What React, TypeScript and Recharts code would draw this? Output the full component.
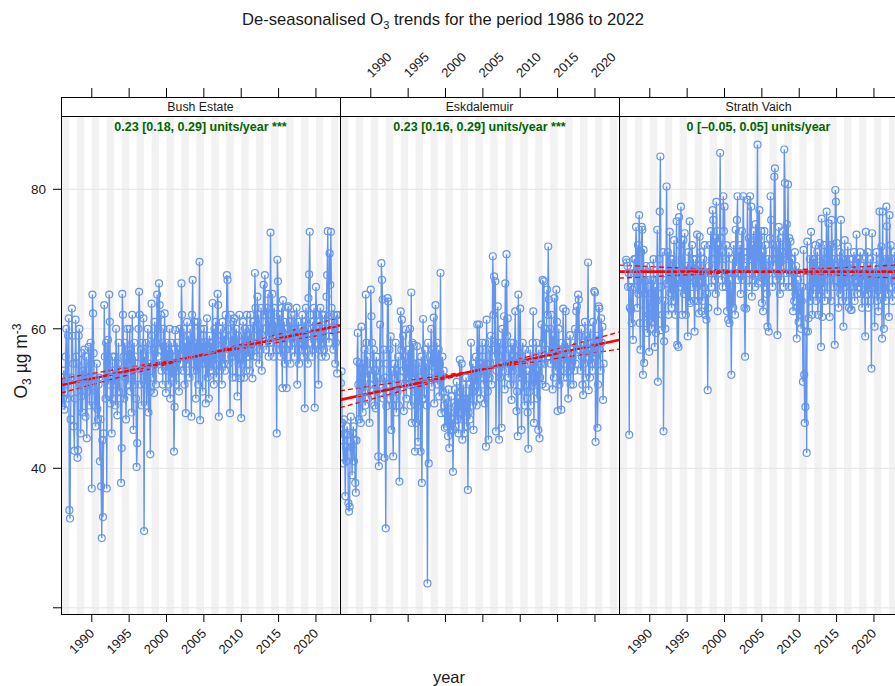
import { ComposedChart, Line, XAxis, YAxis, ReferenceArea, ReferenceLine } from 'recharts';

const FONT = '"Liberation Sans", Arial, Helvetica, sans-serif';

// axis ranges (decimal years / µg m-3)
const X_MIN = 1985.88;
const X_MAX = 2023.22;
const Y_MIN = 19.11;
const Y_MAX = 93.23;

const YEAR_TICKS = [1990, 1995, 2000, 2005, 2010, 2015, 2020];
const Y_TICKS = [20, 40, 60, 80];
const SHADED_YEARS = [1986, 1988, 1990, 1992, 1994, 1996, 1998, 2000, 2002, 2004, 2006, 2008, 2010, 2012, 2014, 2016, 2018, 2020, 2022];

const SITES = ['Bush Estate', 'Eskdalemuir', 'Strath Vaich'];
const SERIES_START = [1986, 1986, 1986 + 10 / 12];
const SLOPE = [0.23, 0.23, 0];
const SLOPE_LOWER = [0.18, 0.16, -0.05];
const SLOPE_UPPER = [0.29, 0.29, 0.05];
const SIGNIF = ['***', '***', ''];
const TREND_MID_YEAR = 2004.46;
const TREND_MID_VALUE = [56.18, 54.08, 68.2];

// monthly de-seasonalised O3, one row per year
const bushEstate = [
  53, 49, 50, 54, 48.4, 52, 56, 60, 53, 50, 59, 61.5,
  34, 32.8, 47, 53, 62.9, 59, 55, 46, 42.5, 50, 61.3, 56,
  55, 41.5, 42.6, 59, 60, 52, 45, 50.3, 56.5, 48, 54, 52,
  57, 53, 47.4, 56, 44.3, 51, 54, 57.4, 49, 52, 58, 55,
  37.1, 64.9, 62.2, 56.5, 49, 53, 46, 51, 55, 48.5, 47, 52,
  53, 41, 47, 37.4, 30, 44, 33, 45, 63.4, 56, 50, 58,
  37.1, 55, 58.4, 52, 64.9, 61, 49.3, 53, 45, 56, 50, 54,
  52, 56, 49, 60, 53, 47.6, 55, 58, 51, 54, 50, 37.9,
  42.9, 65, 62, 56, 50, 58, 53, 47, 55, 60, 52, 57,
  55, 60, 51, 57, 48, 62, 54, 45.5, 58, 52, 56, 50,
  40.2, 43.6, 55, 60, 65.3, 62, 52, 57, 49, 58, 54, 61.5,
  31, 56, 52, 58, 49, 54, 60, 48, 55, 51, 42, 57,
  63.6, 59, 53, 57, 50.8, 61, 55, 52, 58, 64.9, 56, 60,
  66.5, 63.4, 57, 62, 54, 58, 52, 60, 55, 62.2, 57, 50.8,
  58, 54, 57, 52, 56, 60, 50, 55, 58, 53, 57, 54,
  42.4, 48.8, 59.8, 56, 52, 58, 54, 57, 51, 60, 55, 56,
  66.5, 62, 57, 54, 60, 52, 58, 47.9, 56, 61, 55, 59,
  57, 53, 60, 56, 47.4, 62, 67, 58, 54, 61, 56, 50,
  58, 54, 61, 52, 57, 69.6, 46.9, 60, 55, 58, 51, 59,
  60, 55, 58, 49.3, 56, 61.5, 53, 57, 50, 59, 54, 58,
  57, 54, 63.7, 58, 52, 60, 55, 61, 53, 59, 65, 63.4,
  47.4, 57, 54, 60, 56, 52, 61, 58, 55, 59, 54, 62,
  58, 67.7, 67, 60, 55, 57, 47.9, 62, 56, 59, 53, 61,
  56, 61.5, 58, 53, 60, 57, 50.3, 59, 55, 62, 57, 52.9,
  47.2, 59, 55, 61, 57, 53, 60, 58, 54, 62, 56, 59,
  56, 60, 54, 62, 58, 57, 52.9, 61, 56, 59, 68, 63,
  60, 56, 64.6, 58, 62, 55, 60, 57, 63, 54, 59, 61,
  66.3, 62, 67.7, 60, 57, 63, 59, 65, 56, 61, 58, 73.8,
  62, 58, 65, 60, 56, 63, 59, 61, 57, 45, 69.9, 66.8,
  60, 57, 62, 56, 59, 63, 51.5, 64.1, 58, 61, 55, 60,
  57, 51.5, 60, 63, 63.2, 58, 61, 55, 59, 62, 57, 60,
  58, 62, 56, 60, 59, 63, 52, 57, 61, 55, 60, 58,
  60, 57, 62, 58, 56, 61, 48.6, 59, 63, 57, 60, 55,
  64.4, 67.8, 73.9, 62, 58, 60, 56, 61, 57, 63, 48.7, 59,
  66, 62, 58, 60, 52, 61, 57, 63, 59, 56, 62, 58,
  60, 57, 62, 59, 56, 64.6, 67.7, 74, 61, 58, 70.8, 66.3,
  73.9, 63, 59, 61, 57, 62, 60, 55, 58, 62, 53.6, 62,
];

const eskdalemuir = [
  52.2, 53.9, 46.5, 44, 40.7, 47, 45, 36, 43, 41, 46, 44.8,
  35, 33.8, 34.5, 44, 47.4, 43, 39, 45, 46, 41, 44, 37.9,
  36.5, 44, 55.3, 59.4, 52, 47, 55, 50, 46.5, 60.3, 53, 48,
  55, 51, 57, 49, 64.9, 58, 53, 56, 50, 54, 46.5, 52,
  65.6, 61.8, 58, 55, 52, 57, 49, 54, 48.6, 56, 51, 53,
  41.7, 40.3, 55, 60.6, 52, 69.4, 67, 64.2, 50, 57, 41.5, 53,
  31.4, 48.9, 55, 64.4, 63.9, 52, 57, 50, 58.9, 45.5, 54, 49,
  41.7, 50, 55, 52.9, 58, 48, 54, 51, 56, 49, 38.1, 53,
  62.5, 57, 61.3, 54, 59, 48.2, 56, 52, 59.9, 50, 55, 53,
  57, 52, 55, 60, 49, 65.2, 46.5, 58, 53, 57.7, 51, 42.4,
  55, 46.5, 57.5, 51, 43.8, 55.1, 49, 53, 42.4, 56, 37.9, 50,
  61.4, 54, 50, 57, 52, 55, 49, 23.5, 58, 40.7, 53, 56,
  55, 60, 51.7, 57, 54.6, 61.6, 49.3, 56, 63.4, 53, 58, 52,
  54, 57, 50.3, 55, 68, 47.9, 53, 56, 51, 54, 49, 45.8,
  47.9, 50, 46, 49.3, 44.6, 51.3, 42.9, 48, 46, 50.3, 45.5, 47,
  39.5, 45.5, 48, 51.3, 46, 49, 52.4, 47, 50, 45, 48, 55.6,
  51, 47, 55, 44.1, 49, 52, 45, 50, 48, 53, 46, 50,
  36.9, 48, 52, 47, 50, 58, 53, 49, 55, 45.5, 51, 54,
  52, 56, 49, 60.6, 54, 51, 60.6, 57, 50, 55, 53, 58,
  56, 52, 54, 49.3, 58, 43.1, 61.3, 55, 51, 44.1, 57, 53,
  55, 59, 52, 57, 70.4, 62, 67.5, 56, 66.8, 45.3, 54, 58,
  63.2, 56, 44.1, 58, 53, 55, 45.8, 60, 54, 57, 61.8, 51.3,
  66.5, 55, 70.7, 59, 61.5, 53, 57, 55, 52, 58, 49.8, 56,
  54, 58, 52, 57, 62.5, 55, 48.2, 51, 44.6, 64.9, 56, 53,
  62.9, 56, 45.5, 53, 58, 51, 55, 49, 57, 52, 54, 50,
  48, 42.8, 54, 51, 57, 49, 55, 52, 58, 62.5, 46.5, 53,
  56, 52, 58, 50, 54, 45.5, 57, 44.3, 53, 55, 60.6, 52,
  67, 58, 66.8, 55, 60, 51.7, 57, 65.6, 62, 71.8, 64.2, 56,
  60, 55, 62, 57, 51.3, 59, 53, 64.4, 58, 54, 65.6, 61,
  48.2, 55, 60, 52, 57, 54, 48.4, 58, 56, 62.9, 53, 57,
  55, 62.5, 57, 53, 58, 50, 56, 54, 59.1, 52, 57, 55,
  56, 52, 58, 54, 60, 55, 62.5, 63.2, 57, 64.9, 64.2, 59,
  57, 54, 60, 56, 52, 50.5, 58, 55, 61, 53, 59, 56,
  58, 69.5, 51.2, 57, 53, 60, 55, 58, 54, 61, 56, 65.4,
  65.2, 43.8, 56, 59, 45.8, 52, 63.2, 62.9, 57, 54, 61.5, 58,
  60.3, 49.8, 55,
];

// starts November 1986
const strathVaich = [
  69.9, 69.5,
  69, 66, 68, 44.8, 63, 66, 62.7, 60.8, 65.6, 58.4, 68, 70,
  66, 70, 74.6, 68, 63, 72, 65, 76.3, 60.8, 57, 71, 74.6,
  74.2, 53.4, 71.3, 55.1, 66.8, 65.1, 69, 60.8, 59.4, 67, 62, 56.7,
  63, 69, 65.1, 60, 67, 61, 70, 62, 57.4, 66, 59.4, 64,
  74.2, 52.4, 65, 70, 76.8, 84.7, 66, 59.8, 62, 71, 45.3, 58.2,
  64, 60, 67, 80.4, 66.5, 71, 62, 68, 73.9, 65.1, 70, 63,
  66, 70, 64, 72.7, 68, 62, 69, 75.4, 57.7, 67, 57.4, 76,
  72, 66, 77.5, 70, 62, 68.4, 72.7, 65, 73.7, 67, 62, 69,
  66, 58.9, 71, 64, 75.4, 63.7, 69, 67.5, 72, 66, 70, 64,
  59.6, 67, 70, 66, 73.5, 64, 69, 62.2, 73.2, 67, 71, 62.5,
  68, 64, 70, 66, 72, 62, 68, 61.3, 65, 51.2, 63, 69,
  72, 68, 74, 66, 70, 77, 75.6, 71, 67, 73, 65, 78.2,
  74, 62.5, 72, 68, 70, 85.2, 73, 67, 71, 66, 79, 74,
  77.5, 70, 66, 72, 62.5, 68, 61.3, 71, 60.8, 67, 64, 53.4,
  66, 70, 63, 72, 68, 62, 74.2, 69, 75.6, 79, 67, 71,
  68, 72, 65, 70, 74, 67, 79, 71, 63, 56, 69, 62.9,
  71, 78.5, 68, 73, 66, 79, 70, 77.5, 64.6, 72, 67, 74,
  70, 66, 75, 68, 72, 86.4, 66.5, 73, 77, 66.8, 70, 74,
  63.7, 71, 62.5, 68, 74, 66, 72, 69, 65, 60.3, 70, 59.6,
  68, 73, 79, 75.6, 70, 66, 72, 69, 81.8, 83, 71, 67,
  72, 59.1, 68, 74.6, 70, 65, 73, 67, 71, 69, 74, 66,
  85.7, 80.9, 72, 68, 75, 70, 80.7, 66, 73, 68, 72.5, 70,
  66, 70, 62.5, 68, 64, 71, 65, 69, 58.6, 63, 67, 61,
  65, 62, 68, 60, 64, 66, 52.4, 71.3, 53.4, 46.5, 48.8, 59.6,
  42.2, 72.5, 59.6, 61.5, 66, 70, 64, 73.9, 68, 62, 70, 65,
  70, 66, 72, 64, 68, 71, 62, 69, 65, 72.3, 67, 57.4,
  75.8, 61.7, 70, 66, 72, 64, 68, 70, 76.8, 65, 71, 75.1,
  67, 61.7, 72, 64, 75.6, 71.8, 68, 66, 70, 57.7, 79.9, 78.2,
  72.3, 66, 70, 63, 68, 71, 65, 75.6, 69, 64, 70, 60.3,
  68, 72.7, 66, 70, 64, 69, 71.8, 67, 63, 70, 66, 62.7,
  62.7, 68, 70, 66, 71, 64, 69, 67, 73.5, 65, 70, 66,
  70.1, 66, 71, 65, 68, 63, 69, 67, 70, 64, 58.9, 73.9,
  68, 65, 71, 63, 69, 66, 70, 64, 54.3, 73.7, 66, 68,
  67, 60.3, 69, 65, 71, 64, 68, 62.5, 66, 76.8, 70, 65,
  71.8, 58.6, 76.8, 66, 60, 69, 70, 64, 77.5, 74.7, 65, 70,
  61.7, 76.3, 68, 72, 66, 70, 64, 69, 67, 71, 65, 70,
];

const SERIES = [bushEstate, eskdalemuir, strathVaich];

// panel layout
const PANEL_LEFT = [61, 340, 619];
const PANEL_W = 279;
const PLOT_TOP = 97;
const STRIP_H = 19;
const PLOT_BOTTOM = 614;
const TOP_LABELS = [false, true, false];
const BOTTOM_LABELS = [true, false, true];
const Y_AXIS_W = 50;
const LEFT_PAD = 11;
const RIGHT_PAD = 30; // room for rotated labels that run past the panel edge

const toPoints = (values: number[], start: number) => values.map((v, i) => ({ t: start + i / 12, v }));

const trendLine = (i: number, slope: number) => [
  { t: X_MIN, v: TREND_MID_VALUE[i] + slope * (X_MIN - TREND_MID_YEAR) },
  { t: X_MAX, v: TREND_MID_VALUE[i] + slope * (X_MAX - TREND_MID_YEAR) },
];

const fmtSlope = (s: number) => (s < 0 ? `–${Math.abs(s)}` : `${s}`);
const trendLabel = (i: number) =>
  `${fmtSlope(SLOPE[i])} [${fmtSlope(SLOPE_LOWER[i])}, ${fmtSlope(SLOPE_UPPER[i])}] units/year ${SIGNIF[i]}`.trim();

const NoTick = () => <g />;

const BottomTick = (props: any) => {
  const { x, y, payload } = props;
  return (
    <text x={x} y={y} dy="0.35em" textAnchor="end" transform={`rotate(-45 ${x} ${y})`}
      fontSize={13} fill="#1a1a1a" fontFamily={FONT}>
      {payload.value}
    </text>
  );
};

const TopTick = (props: any) => {
  const { x, y, payload } = props;
  return (
    <text x={x - 2} y={y} dy="0.35em" textAnchor="start" transform={`rotate(-45 ${x - 2} ${y})`}
      fontSize={13} fill="#1a1a1a" fontFamily={FONT}>
      {payload.value}
    </text>
  );
};

function Panel({ i }: { i: number }) {
  const hasY = i === 0;
  const ml = hasY ? LEFT_PAD : 0;
  const chartLeft = PANEL_LEFT[i] - (hasY ? Y_AXIS_W : 0) - ml;
  const width = PANEL_W + (hasY ? Y_AXIS_W : 0) + ml + RIGHT_PAD;
  const points = toPoints(SERIES[i], SERIES_START[i]);

  return (
    <div style={{ position: 'absolute', left: chartLeft, top: 0 }}>
      <ComposedChart width={width} height={686} margin={{ top: 0, right: RIGHT_PAD, bottom: 0, left: ml }}>
        <XAxis xAxisId="b" type="number" dataKey="t" orientation="bottom" domain={[X_MIN, X_MAX]}
          allowDataOverflow ticks={YEAR_TICKS} interval={0} height={686 - PLOT_BOTTOM}
          tickSize={8} tickMargin={9} axisLine={false} tickLine={{ stroke: '#000' }}
          tick={BOTTOM_LABELS[i] ? BottomTick : NoTick} />
        <XAxis xAxisId="t" type="number" dataKey="t" orientation="top" domain={[X_MIN, X_MAX]}
          allowDataOverflow ticks={YEAR_TICKS} interval={0} height={PLOT_TOP}
          tickSize={9} tickMargin={13} axisLine={false} tickLine={{ stroke: '#000' }}
          tick={TOP_LABELS[i] ? TopTick : NoTick} />
        <YAxis yAxisId="y" type="number" domain={[Y_MIN, Y_MAX]} allowDataOverflow hide={!hasY}
          width={Y_AXIS_W} ticks={Y_TICKS} interval={0} tickSize={8} tickMargin={7} axisLine={false}
          tickLine={{ stroke: '#000' }} tickFormatter={(v: number) => (v === 20 ? '' : String(v))}
          tick={{ fontSize: 13.5, fill: '#1a1a1a', fontFamily: FONT }} />

        {SHADED_YEARS.map((yr) => (
          <ReferenceArea key={yr} xAxisId="b" yAxisId="y" x1={yr} x2={yr + 1}
            fill="#F2F2F2" fillOpacity={1} stroke="none" ifOverflow="hidden" />
        ))}
        {Y_TICKS.map((v) => (
          <ReferenceLine key={v} xAxisId="b" yAxisId="y" y={v} stroke="#E3E3E3" strokeWidth={1} />
        ))}

        <Line xAxisId="b" yAxisId="y" data={points} dataKey="v" type="linear" stroke="#6495ED"
          strokeWidth={1.4} dot={{ r: 3.5, stroke: '#6495ED', strokeWidth: 1.2, fill: 'none' }}
          activeDot={false} isAnimationActive={false} />

        <Line xAxisId="b" yAxisId="y" data={trendLine(i, SLOPE_LOWER[i])} dataKey="v" stroke="#FF0000"
          strokeWidth={1.4} strokeDasharray="5 3" dot={false} activeDot={false} isAnimationActive={false} />
        <Line xAxisId="b" yAxisId="y" data={trendLine(i, SLOPE_UPPER[i])} dataKey="v" stroke="#FF0000"
          strokeWidth={1.4} strokeDasharray="5 3" dot={false} activeDot={false} isAnimationActive={false} />
        <Line xAxisId="b" yAxisId="y" data={trendLine(i, SLOPE[i])} dataKey="v" stroke="#FF0000"
          strokeWidth={2.6} dot={false} activeDot={false} isAnimationActive={false} />
      </ComposedChart>
    </div>
  );
}

export default function App() {
  return (
    <div style={{ position: 'absolute', left: 0, top: 0, width: 895, height: 686, overflow: 'hidden', background: '#fff', fontFamily: FONT }}>
      {SITES.map((_, i) => <Panel key={i} i={i} />)}

      <svg width={895} height={686} style={{ position: 'absolute', left: 0, top: 0, pointerEvents: 'none' }}>
        <text x={443} y={25} textAnchor="middle" fontSize={16.6} fill="#1a1a1a" fontFamily={FONT}>
          De-seasonalised O<tspan dy={4} fontSize={11}>3</tspan><tspan dy={-4}> trends for the period 1986 to 2022</tspan>
        </text>

        {SITES.map((site, i) => {
          const x = PANEL_LEFT[i] + 0.5;
          const cx = PANEL_LEFT[i] + PANEL_W / 2;
          return (
            <g key={site}>
              <rect x={x} y={PLOT_TOP + 0.5} width={PANEL_W} height={PLOT_BOTTOM - PLOT_TOP} fill="none" stroke="#000" />
              <rect x={x} y={PLOT_TOP + 0.5} width={PANEL_W} height={STRIP_H} fill="#fff" stroke="#000" />
              <text x={cx} y={PLOT_TOP + 14} textAnchor="middle" fontSize={12.3} fill="#1a1a1a" fontFamily={FONT}>{site}</text>
              <text x={cx} y={PLOT_TOP + STRIP_H + 15} textAnchor="middle" fontSize={12.5} fontWeight="bold"
                fill="#006400" fontFamily={FONT}>{trendLabel(i)}</text>
            </g>
          );
        })}

        <text transform="translate(27 361) rotate(-90)" textAnchor="middle" fontSize={17.5} fill="#1a1a1a" fontFamily={FONT}>
          O<tspan dy={4} fontSize={12}>3</tspan><tspan dy={-4}> µg m</tspan><tspan dy={-6} fontSize={12}>-3</tspan>
        </text>
        <text x={449} y={683} textAnchor="middle" fontSize={16.5} fill="#1a1a1a" fontFamily={FONT}>year</text>
      </svg>
    </div>
  );
}
